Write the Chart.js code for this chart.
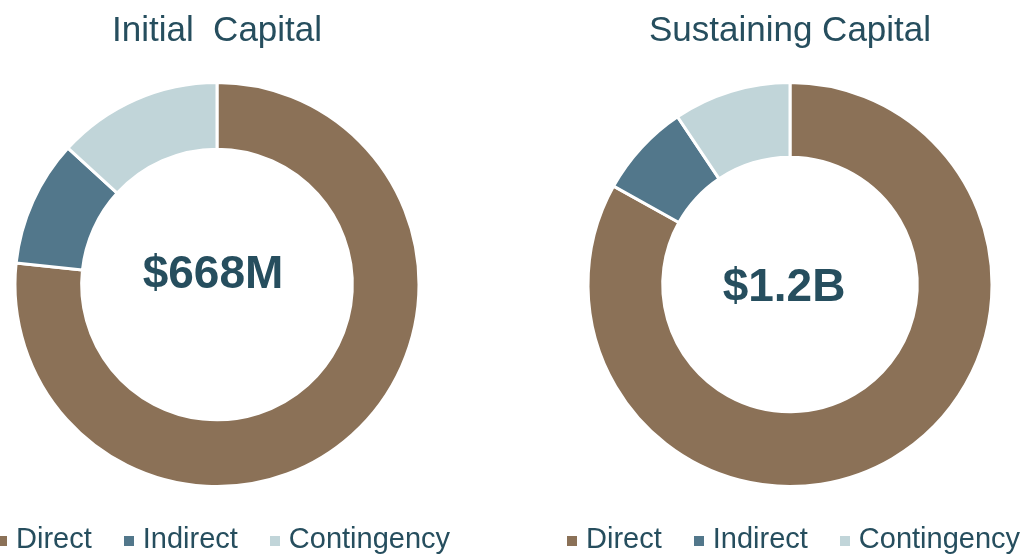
<!DOCTYPE html>
<html lang="en">
<head>
  <meta charset="UTF-8">
  <title>Initial and Sustaining Capital</title>
  <script src="https://cdn.jsdelivr.net/npm/chart.js"></script>
  <style>
    html, body {
      margin: 0;
      padding: 0;
      width: 1028px;
      height: 554px;
      overflow: hidden;
      background: #fff;
      font-family: "Liberation Sans", Arial, sans-serif;
    }
    .chart-box {
      position: absolute;
      top: 0;
      width: 434px;
      height: 554px;
    }
    .legend {
      position: absolute;
      top: 524px;
      display: flex;
      white-space: nowrap;
      font-size: 29px;
      line-height: 29px;
      color: #264e5e;
    }
    .legend span.item {
      display: flex;
      align-items: center;
      margin-right: 32px;
    }
    .legend span.box {
      display: inline-block;
      width: 10px;
      height: 10px;
      margin-right: 9px;
      margin-top: 4px;
    }
  </style>
</head>
<body>
  <div class="chart-box" style="left:0px"><canvas id="initialChart"></canvas></div>
  <div class="chart-box" style="left:573px"><canvas id="sustainingChart"></canvas></div>
  <div class="legend" id="legendInitial" style="left:-3px"></div>
  <div class="legend" id="legendSustaining" style="left:567px"></div>

  <script>
    // data (percent of each total)
    const categories = ['Direct', 'Indirect', 'Contingency'];
    const initialValues = [76.7, 10.1, 13.2];
    const sustainingValues = [83.1, 7.5, 9.4];
    const colors = ['#8b7157', '#52778b', '#c1d5d9'];
    const textColor = '#264e5e';

    // draws the total in the hole
    const centerLabel = {
      id: 'centerLabel',
      afterDraw(chart, args, opts) {
        const meta = chart.getDatasetMeta(0);
        if (!meta.data.length) return;
        const { x, y } = meta.data[0];
        const ctx = chart.ctx;
        ctx.save();
        ctx.font = 'bold 46px "Liberation Sans", Arial, sans-serif';
        ctx.fillStyle = textColor;
        ctx.textAlign = 'center';
        ctx.textBaseline = 'alphabetic';
        ctx.fillText(opts.text, x + (opts.dx || 0), y + (opts.dy || 0));
        ctx.restore();
      }
    };

    function makeChart(id, title, values, cutout, label, dx, dy, padTop, padBottom) {
      const ctx = document.getElementById(id).getContext('2d');
      return new Chart(ctx, {
        type: 'doughnut',
        data: {
          labels: categories,
          datasets: [{
            data: values,
            backgroundColor: colors,
            borderColor: '#ffffff',
            borderWidth: 3,
            hoverOffset: 0
          }]
        },
        options: {
          responsive: true,
          maintainAspectRatio: false,
          animation: false,
          cutout: cutout,
          layout: { padding: { bottom: padBottom } },
          plugins: {
            legend: { display: false },
            tooltip: { enabled: false },
            title: {
              display: true,
              text: title,
              color: textColor,
              font: { family: '"Liberation Sans", Arial, sans-serif', size: 35, weight: 'normal' },
              padding: { top: 10, bottom: padTop }
            },
            centerLabel: { text: label, dx: dx, dy: dy }
          }
        },
        plugins: [centerLabel]
      });
    }

    function buildLegend(elId) {
      const el = document.getElementById(elId);
      categories.forEach((name, i) => {
        const item = document.createElement('span');
        item.className = 'item';
        const box = document.createElement('span');
        box.className = 'box';
        box.style.background = colors[i];
        item.appendChild(box);
        item.appendChild(document.createTextNode(name));
        el.appendChild(item);
      });
    }

    makeChart('initialChart', 'Initial  Capital', initialValues, '67%', '$668M', -4, 3, 29, 66);
    makeChart('sustainingChart', 'Sustaining Capital', sustainingValues, '63%', '$1.2B', -6, 16, 29, 66);
    buildLegend('legendInitial');
    buildLegend('legendSustaining');
  </script>
</body>
</html>
